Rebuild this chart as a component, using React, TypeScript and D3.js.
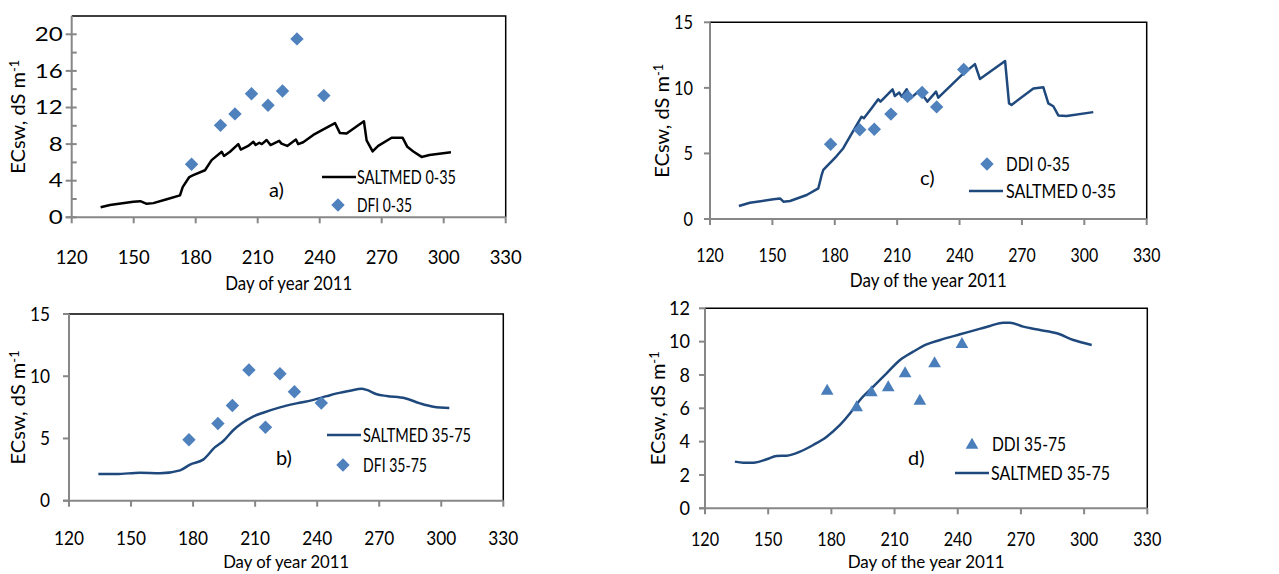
import React from 'react';
import * as d3 from 'd3';

// observation days (same sampling dates in every panel)
const obsDays = [178, 192, 199, 207, 215, 222, 229, 242];

// measured ECsw, dS/m
const dfi035 = [5.8, 10.05, 11.3, 13.5, 12.25, 13.8, 19.5, 13.3];
const dfi3575 = [4.9, 6.2, 7.65, 10.5, 5.9, 10.2, 8.75, 7.85];
const ddi035 = [5.7, 6.8, 6.85, 8.0, 9.35, 9.65, 8.55, 11.4];
const ddi3575 = [7.1, 6.1, 7.0, 7.3, 8.15, 6.5, 8.75, 9.9];

// SALTMED simulated ECsw [day, value]
const saltA: [number, number][] = [
  [134, 1.1], [138.5, 1.35], [149.8, 1.7], [153.2, 1.76], [156.3, 1.47], [159.5, 1.55],
  [166, 1.98], [172.4, 2.4], [173.7, 3.3], [176.9, 4.4], [178.8, 4.6], [184.5, 5.14],
  [187.7, 6.25], [192.6, 7.16], [193.7, 6.7], [196.6, 7.16], [200.6, 8.0], [201.8, 7.4],
  [205.4, 7.8], [207.9, 8.25], [209, 7.9], [210.8, 8.15], [212, 8.0], [214.3, 8.45],
  [216.2, 7.9], [220.4, 8.35], [221.5, 8.05], [224.3, 7.8], [228.5, 8.5], [229.6, 8.0],
  [232, 8.2], [236.9, 9.0], [240.9, 9.5], [247.4, 10.3], [249.8, 9.2], [253, 9.15],
  [261.4, 10.5], [262.7, 8.4], [265.6, 7.2], [268.3, 7.8], [274.8, 8.7], [280.1, 8.7],
  [282.4, 7.7], [285.3, 7.2], [289.3, 6.6], [293.1, 6.8], [303.5, 7.1]
];
const saltB: [number, number][] = [
  [134.2, 2.14], [143, 2.14], [154.3, 2.25], [164, 2.2], [173.7, 2.44], [178.5, 2.9],
  [184.9, 3.3], [190.6, 4.3], [194.6, 4.8], [199.4, 5.66], [203.4, 6.2], [209, 6.76],
  [213.9, 7.07], [222, 7.5], [230, 7.82], [238.2, 8.1], [244.6, 8.4], [249.5, 8.62],
  [255.9, 8.84], [261.6, 9.0], [264, 8.9], [268.8, 8.55], [273.7, 8.41], [282.5, 8.23],
  [289.7, 7.82], [296.2, 7.55], [303.9, 7.45]
];
const saltC: [number, number][] = [
  [133.9, 0.99], [139.2, 1.24], [150.5, 1.5], [153.7, 1.57], [155.3, 1.32], [158.5, 1.37],
  [166.5, 1.83], [172.1, 2.34], [173.7, 3.36], [174.5, 3.74], [180.9, 4.8], [184.1, 5.4],
  [185.4, 5.76], [192.9, 7.8], [194, 7.68], [197.7, 8.44], [200.9, 9.13], [202, 8.95],
  [207.8, 9.89], [208.9, 9.38], [211, 9.64], [212.2, 9.33], [214.6, 9.89], [216.5, 9.2],
  [220.6, 9.79], [222.3, 9.45], [224.5, 8.95], [228.7, 9.71], [229.8, 9.25], [241, 10.97],
  [247.4, 11.81], [249.8, 10.68], [261.9, 12.05], [263.8, 8.82], [265, 8.7], [275.5, 9.95],
  [280.3, 10.04], [282.7, 8.82], [285.1, 8.6], [287.5, 7.9], [291.5, 7.85], [304.3, 8.15]
];
const saltD: [number, number][] = [
  [134.2, 2.8], [138.2, 2.74], [143, 2.74], [149.3, 2.94], [154, 3.14], [158.8, 3.16],
  [165.1, 3.4], [171.4, 3.8], [177.8, 4.3], [184.1, 5.0], [188.9, 5.7], [193.6, 6.5],
  [199.9, 7.3], [206.2, 8.1], [212.6, 8.9], [218.9, 9.4], [225.2, 9.83], [231.6, 10.1],
  [241.1, 10.44], [247.4, 10.66], [255.3, 10.94], [261.6, 11.14], [264.8, 11.14],
  [271.1, 10.9], [279.1, 10.7], [287, 10.5], [294.9, 10.1], [303.6, 9.8]
];

const xTicks = [120, 150, 180, 210, 240, 270, 300, 330];

const FONT = 'Lato, "Open Sans", sans-serif';
const AXIS = '#878787';
const MARK = '#4F81BD';
const NAVY = '#1F497D';

type LegendItem = { label: string; kind: 'line' | 'mark'; x: number; y: number; tx: number; w: number };

type PanelProps = {
  left: number; right: number; top: number; bottom: number;
  yMax: number; yStep: number; yMinor?: boolean;
  obs: number[]; sim: [number, number][];
  lineColor: string; smooth: boolean; marker: 'diamond' | 'triangle';
  tickGap: number; yDigit: number; xDigit: number;
  xLabelDy: number; titleY: number; titleW: number; titleSize?: number; yTitleX: number;
  xTitle: string; tag: string; tagX: number; tagY: number;
  legend: LegendItem[];
};

const diamondPath = d3.symbol().type(d3.symbolSquare).size(90)()!;
const trianglePath = d3.symbol().type(d3.symbolTriangle).size(70)()!;

function Marker({ kind, x, y }: { kind: 'diamond' | 'triangle'; x: number; y: number }) {
  if (kind === 'diamond') {
    return <path d={diamondPath} transform={`translate(${x},${y}) rotate(45)`} fill={MARK} />;
  }
  return <path d={trianglePath} transform={`translate(${x},${y + 1})`} fill="#4A7EBB" />;
}

function Panel(p: PanelProps) {
  const x = d3.scaleLinear().domain([120, 330]).range([p.left, p.right]);
  const y = d3.scaleLinear().domain([0, p.yMax]).range([p.bottom, p.top]);
  const yTicks = d3.range(0, p.yMax + 0.001, p.yStep).filter(v => y(v) >= p.top - 1);
  const minor = p.yMinor ? d3.range(p.yStep / 2, p.yMax, p.yStep) : [];
  const line = d3.line<[number, number]>()
    .x(d => x(d[0]))
    .y(d => y(d[1]))
    .curve(p.smooth ? d3.curveMonotoneX : d3.curveLinear);

  return (
    <g fontFamily={FONT}>
      {/* plot area border top/right */}
      <path d={`M${p.left},${p.top}H${p.right}V${p.bottom}`} fill="none" stroke="#000" strokeWidth={1.5} />
      {/* axes */}
      <line x1={p.left} x2={p.left} y1={p.top} y2={p.bottom} stroke={AXIS} strokeWidth={2} />
      <line x1={p.left - 6} x2={p.right} y1={p.bottom} y2={p.bottom} stroke={AXIS} strokeWidth={2} />
      {yTicks.map(v => (
        <g key={'y' + v}>
          <line x1={p.left - 6} x2={p.left + (p.yMinor ? 5 : 0)} y1={y(v)} y2={y(v)} stroke={AXIS} strokeWidth={2} />
          <text x={p.left - p.tickGap} y={y(v)} dy="0.35em" textAnchor="end" fontSize={19}
            textLength={String(v).length * p.yDigit} lengthAdjust="spacingAndGlyphs">{v}</text>
        </g>
      ))}
      {minor.map(v => (
        <line key={'m' + v} x1={p.left} x2={p.left + 5} y1={y(v)} y2={y(v)} stroke={AXIS} strokeWidth={2} />
      ))}
      {xTicks.map(v => (
        <g key={'x' + v}>
          <line x1={x(v)} x2={x(v)} y1={p.bottom} y2={p.bottom + 6} stroke={AXIS} strokeWidth={2} />
          <text x={x(v)} y={p.bottom + p.xLabelDy} dy="0.35em" textAnchor="middle" fontSize={19.5}
            textLength={3 * p.xDigit} lengthAdjust="spacingAndGlyphs">{v}</text>
        </g>
      ))}
      <text x={(p.left + p.right) / 2} y={p.titleY} dy="0.35em" textAnchor="middle" fontSize={p.titleSize ?? 19}
        textLength={p.titleW} lengthAdjust="spacingAndGlyphs">{p.xTitle}</text>
      <text transform={`translate(${p.yTitleX},${(p.top + p.bottom) / 2}) rotate(-90)`} dy="0.35em" textAnchor="middle" fontSize={20}>
        ECsw, dS m<tspan dy="-0.45em" fontSize={13}>-1</tspan>
      </text>
      {/* simulated */}
      <path d={line(p.sim) ?? ''} fill="none" stroke={p.lineColor} strokeWidth={2.5} strokeLinejoin="round" />
      {/* observed */}
      {p.obs.map((v, i) => <Marker key={i} kind={p.marker} x={x(obsDays[i])} y={y(v)} />)}
      <text x={p.tagX} y={p.tagY} dy="0.35em" fontSize={20}>{p.tag}</text>
      {p.legend.map(l => (
        <g key={l.label}>
          {l.kind === 'line'
            ? <line x1={l.x - 17} x2={l.x + 17} y1={l.y} y2={l.y} stroke={p.lineColor} strokeWidth={2.5} />
            : <Marker kind={p.marker} x={l.x} y={l.y} />}
          <text x={l.tx} y={l.y} dy="0.35em" fontSize={20} textLength={l.w} lengthAdjust="spacingAndGlyphs">{l.label}</text>
        </g>
      ))}
    </g>
  );
}

export default function App() {
  return (
    <svg width={1279} height={574} style={{ position: 'absolute', left: 0, top: 0, background: '#fff' }}>
      <Panel left={71.7} right={505.7} top={16} bottom={217.3} yMax={22} yStep={4} yMinor
        obs={dfi035} sim={saltA} lineColor="#000" smooth={false} marker="diamond"
        tickGap={9} yDigit={14} xDigit={10.7}
        xLabelDy={40} titleY={283} titleW={127} yTitleX={18} xTitle="Day of year 2011"
        tag="a)" tagX={269} tagY={190}
        legend={[
          { label: 'SALTMED 0-35', kind: 'line', x: 339, y: 177, tx: 357, w: 99 },
          { label: 'DFI 0-35', kind: 'mark', x: 338, y: 205, tx: 357, w: 55 }
        ]} />
      <Panel left={710} right={1146.7} top={22.3} bottom={219} yMax={15} yStep={5}
        obs={ddi035} sim={saltC} lineColor={NAVY} smooth={false} marker="diamond"
        tickGap={17} yDigit={9.5} xDigit={9.2}
        xLabelDy={36} titleY={280} titleW={157} yTitleX={662} xTitle="Day of the year 2011"
        tag="c)" tagX={920} tagY={178}
        legend={[
          { label: 'DDI 0-35', kind: 'mark', x: 987, y: 164, tx: 1006, w: 64 },
          { label: 'SALTMED 0-35', kind: 'line', x: 986, y: 191, tx: 1006, w: 110 }
        ]} />
      <Panel left={69} right={503.3} top={314} bottom={500.7} yMax={15} yStep={5}
        obs={dfi3575} sim={saltB} lineColor={NAVY} smooth marker="diamond"
        tickGap={19} yDigit={10} xDigit={10}
        xLabelDy={37} titleY={562} titleW={126} titleSize={17.5} yTitleX={18} xTitle="Day of year 2011"
        tag="b)" tagX={276} tagY={458}
        legend={[
          { label: 'SALTMED 35-75', kind: 'line', x: 344, y: 435, tx: 363, w: 108 },
          { label: 'DFI 35-75', kind: 'mark', x: 343, y: 465, tx: 363, w: 64 }
        ]} />
      <Panel left={705} right={1147.3} top={308.3} bottom={508.3} yMax={12} yStep={2}
        obs={ddi3575} sim={saltD} lineColor={NAVY} smooth marker="triangle"
        tickGap={15} yDigit={10.5} xDigit={9.4}
        xLabelDy={31} titleY={562} titleW={157} titleSize={17} yTitleX={658} xTitle="Day of the year 2011"
        tag="d)" tagX={908} tagY={458}
        legend={[
          { label: 'DDI 35-75', kind: 'mark', x: 972, y: 444, tx: 992, w: 74 },
          { label: 'SALTMED 35-75', kind: 'line', x: 972, y: 473, tx: 991, w: 119 }
        ]} />
    </svg>
  );
}
